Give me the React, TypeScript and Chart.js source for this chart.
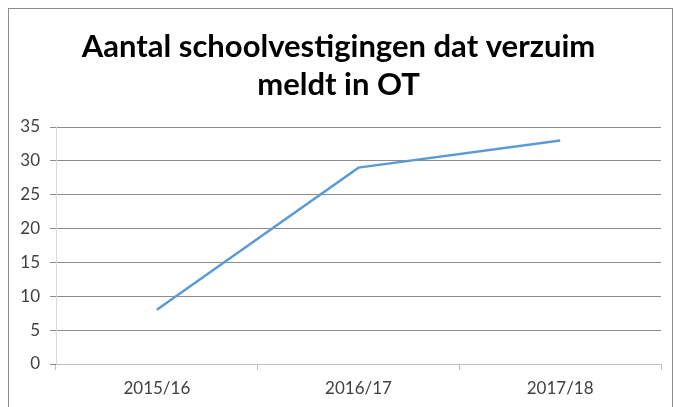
import React, { useEffect, useRef } from "react";
import { Chart, registerables } from "chart.js";

Chart.register(...registerables);

const titleLines = ["Aantal schoolvestigingen dat verzuim", "meldt in OT"];
const categories = ["2015/16", "2016/17", "2017/18"];
const values = [8, 29, 33];
const yMin = 0;
const yMax = 35;
const yStep = 5;

export default function App() {
  const ref = useRef<HTMLCanvasElement | null>(null);

  useEffect(() => {
    document.body.style.overflow = "hidden";
    if (!ref.current) return;
    const chart = new Chart(ref.current, {
      type: "line",
      data: {
        labels: categories,
        datasets: [
          {
            data: values,
            borderColor: "#5B9BD5",
            borderWidth: 2.5,
            pointRadius: 0,
            tension: 0,
            fill: false,
          },
        ],
      },
      options: {
        animation: false,
        responsive: false,
        layout: { padding: { left: 7, right: 11, top: 0, bottom: 0 } },
        plugins: {
          legend: { display: false },
          tooltip: { enabled: false },
          title: {
            display: true,
            text: titleLines,
            color: "#000000",
            font: { family: "Lato", size: 31, weight: "bold", lineHeight: 38 / 31 },
            padding: { top: 19, bottom: 23 },
          },
        },
        scales: {
          x: {
            type: "category",
            offset: true,
            afterFit: (s: any) => {
              s.height = 43;
            },
            grid: {
              offset: true,
              drawOnChartArea: false,
              drawTicks: true,
              tickLength: 6,
              color: "#bfbfbf",
            },
            border: { color: "#bfbfbf", width: 1 },
            ticks: {
              color: "#404040",
              font: { family: "Lato", size: 17 },
              padding: 8,
              maxRotation: 0,
            },
          },
          y: {
            min: yMin,
            max: yMax,
            afterFit: (s: any) => {
              s.width = 40;
            },
            grid: {
              color: "#8c8c8c",
              tickLength: 6,
              drawTicks: true,
            },
            border: { color: "#d9d9d9", width: 1 },
            ticks: {
              stepSize: yStep,
              color: "#404040",
              font: { family: "Lato", size: 17 },
              padding: 10,
            },
          },
        },
      },
    });
    return () => chart.destroy();
  }, []);

  return (
    <div
      style={{
        position: "fixed",
        left: 8,
        top: 8,
        width: 665,
        height: 400,
        boxSizing: "border-box",
        border: "1px solid #8c8c8c",
        background: "#ffffff",
      }}
    >
      <canvas ref={ref} width={663} height={398} style={{ display: "block" }} />
    </div>
  );
}
